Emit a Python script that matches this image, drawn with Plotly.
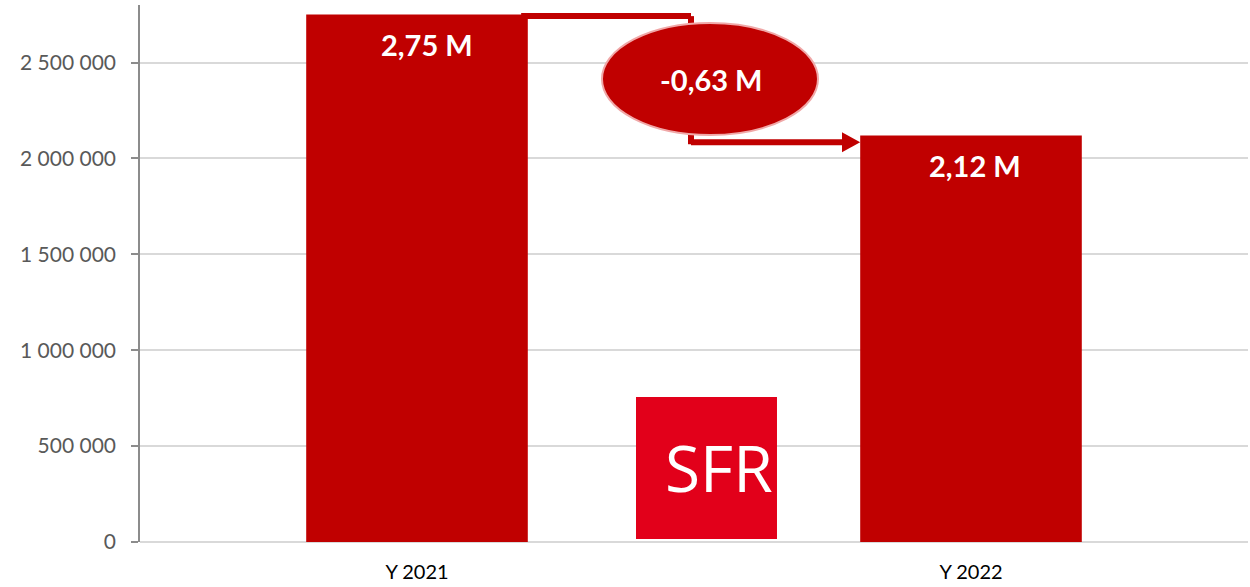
import plotly.graph_objects as go

categories = ["Y 2021", "Y 2022"]
values = [2750000, 2120000]
bar_labels = ["2,75 M", "2,12 M"]
delta_label = "-0,63 M"
y_tickvals = [0, 500000, 1000000, 1500000, 2000000, 2500000]

RED = "#C00000"
FONT = "Lato, 'Open Sans', sans-serif"

fig = go.Figure()
fig.add_trace(go.Bar(
    x=categories, y=values, width=0.4,
    marker=dict(color=RED, line=dict(width=0)),
    hoverinfo="skip",
))

# value labels inside bars near top
for c, v, t, xs in zip(categories, values, bar_labels, [10, 4]):
    fig.add_annotation(x=c, y=v, text=f"<b>{t}</b>", showarrow=False,
                       yanchor="middle", yshift=-30, xshift=xs,
                       font=dict(family=FONT, size=29, color="white"))

v0, v1 = values
# connector from first bar top to ellipse
fig.add_shape(type="line", x0=0.188, x1=0.4946, y0=v0 - 8000, y1=v0 - 8000,
              line=dict(color=RED, width=6), layer="above")
fig.add_shape(type="line", x0=0.4946, x1=0.4946, y0=v0 - 8000, y1=v0 - 150000,
              line=dict(color=RED, width=6), layer="above")
# connector from ellipse to second bar
ya = v1 - 36000
fig.add_shape(type="line", x0=0.4946, x1=0.4946, y0=v1 + 60000, y1=ya - 10000,
              line=dict(color=RED, width=6), layer="above")
fig.add_shape(type="line", x0=0.4946, x1=0.772, y0=ya, y1=ya,
              line=dict(color=RED, width=6), layer="above")
fig.add_shape(type="path",
              path=f"M 0.7671 {ya + 52000} L 0.8 {ya} L 0.7671 {ya - 52000} Z",
              fillcolor=RED, line=dict(width=0), layer="above")
# ellipse with delta
fig.add_shape(type="circle", x0=0.3339, x1=0.7238, y0=2122000, y1=2706000,
              fillcolor=RED, line=dict(color="#F0A8A8", width=2), layer="above")
fig.add_annotation(x=0.5307, y=2414000, text=f"<b>{delta_label}</b>", showarrow=False,
                   font=dict(family=FONT, size=29, color="white"))

# SFR logo
fig.add_shape(type="rect", x0=0.3953, x1=0.6498, y0=15600, y1=756000,
              fillcolor="#E2001A", line=dict(width=0), layer="above")
fig.add_annotation(x=0.5451, y=388000, text="SFR", showarrow=False,
                   font=dict(family="'Open Sans', sans-serif", size=64, color="white"))

fig.update_layout(
    width=1250, height=587,
    margin=dict(l=140, r=2, t=5, b=45),
    plot_bgcolor="white", paper_bgcolor="white",
    showlegend=False,
    separators=", ",
    xaxis=dict(type="category", range=[-0.5, 1.5], showgrid=False,
               showline=False, ticks="", zeroline=False,
               tickfont=dict(family=FONT, size=20, color="black"),
               ticklabelstandoff=16),
    yaxis=dict(range=[0, 2800000], tickvals=y_tickvals, tickformat=",d",
               showgrid=True, gridcolor="#D9D9D9", gridwidth=1.5,
               zeroline=True, zerolinecolor="#D9D9D9", zerolinewidth=1.5,
               showline=True, linecolor="#8C8C8C", linewidth=1.5,
               ticks="outside", ticklen=7, tickcolor="#8C8C8C", tickwidth=1.5,
               tickfont=dict(family=FONT, size=21, color="#595959"),
               ticklabelstandoff=11),
)

fig.write_html("out.html", config={"displayModeBar": False},
               post_script="document.body.style.margin='0';document.body.style.padding='0';")
